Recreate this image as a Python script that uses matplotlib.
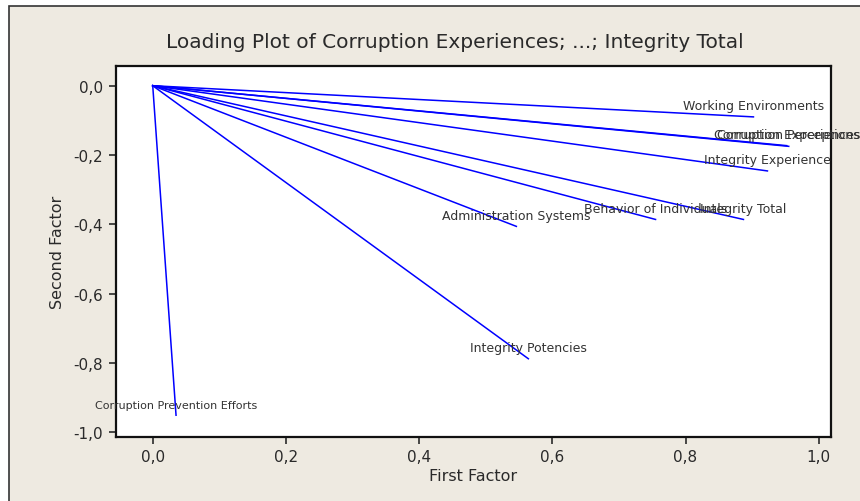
import matplotlib.pyplot as plt
import matplotlib.ticker as ticker
from matplotlib.patches import Rectangle

# loadings
variables = [
    "Working Environments",
    "Corruption Experiences",
    "Corruption Perceptions",
    "Integrity Experience",
    "Integrity Total",
    "Behavior of Individuals",
    "Administration Systems",
    "Integrity Potencies",
    "Corruption Prevention Efforts",
]
first_factor = [0.902, 0.952, 0.955, 0.923, 0.887, 0.755, 0.546, 0.564, 0.035]
second_factor = [-0.090, -0.173, -0.175, -0.246, -0.386, -0.386, -0.406, -0.788, -0.951]
label_sizes = [9, 9, 9, 9, 9, 9, 9, 9, 8]

x_ticks = [0.0, 0.2, 0.4, 0.6, 0.8, 1.0]
y_ticks = [0.0, -0.2, -0.4, -0.6, -0.8, -1.0]

bg = "#eeeae1"
text_color = "#2a2a2a"


def comma(v, pos):
    return ("%.1f" % v).replace(".", ",")


fig = plt.figure(figsize=(8.6, 5.02), dpi=100)
fig.patch.set_facecolor("white")
# beige panel, only the left and top edges fall inside the picture
fig.patches.append(Rectangle((9 / 860, -0.1), 1.2, 1.1 - 7 / 502, transform=fig.transFigure,
                             facecolor=bg, edgecolor="#333333", linewidth=1.2, zorder=-1))

ax = fig.add_axes([115.7 / 860, (502 - 437.7) / 502, 715 / 860, 370.4 / 502])
ax.set_facecolor("white")

for name, x, y, fs in zip(variables, first_factor, second_factor, label_sizes):
    ax.plot([0, x], [0, y], color="#0000ff", linewidth=1.1)
    ax.annotate(name, (x, y), xytext=(0, 3.5), textcoords="offset points",
                ha="center", va="bottom", fontsize=fs, color="#333333",
                clip_on=False, annotation_clip=False)

ax.set_xlim(-0.0556, 1.018)
ax.set_ylim(-1.013, 0.056)
ax.set_xticks(x_ticks)
ax.set_yticks(y_ticks)
ax.xaxis.set_major_formatter(ticker.FuncFormatter(comma))
ax.yaxis.set_major_formatter(ticker.FuncFormatter(comma))
ax.tick_params(direction="out", length=5, width=1.2, labelsize=11,
               colors=text_color, pad=4)
for s in ax.spines.values():
    s.set_linewidth(1.6)
    s.set_color("#111111")

ax.set_xlabel("First Factor", fontsize=11.5, color=text_color, labelpad=3)
ax.set_ylabel("Second Factor", fontsize=11.5, color=text_color, labelpad=6)
fig.text(455 / 860, 1 - 43 / 502, "Loading Plot of Corruption Experiences; ...; Integrity Total",
         ha="center", va="center", fontsize=14.5, color=text_color)

plt.savefig("out.png", dpi=100, facecolor=fig.get_facecolor())
